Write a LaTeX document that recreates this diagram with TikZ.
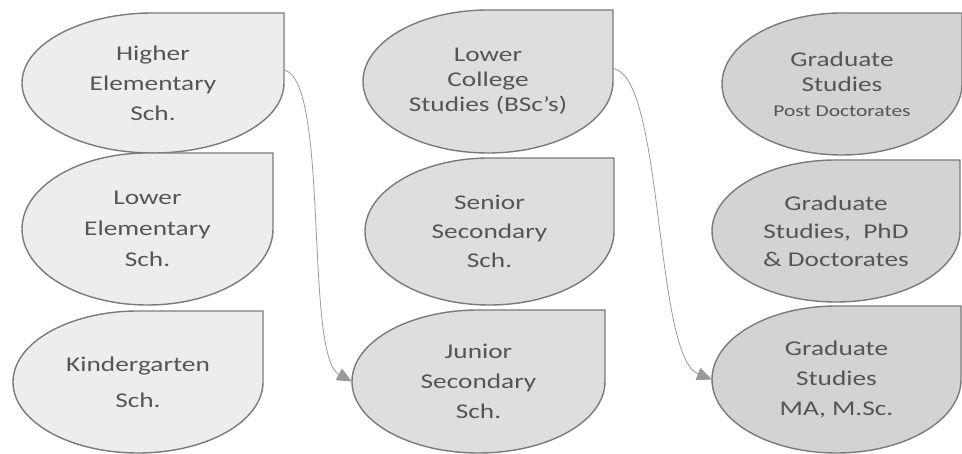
\documentclass[tikz,border=0pt]{standalone}
\usepackage{fontspec}
\newfontfamily\boxfont[FakeStretch=1.3]{Carlito}
\usetikzlibrary{shapes.geometric}
\usetikzlibrary{arrows.meta}
\usetikzlibrary{backgrounds}
\usetikzlibrary{calc}

\definecolor{tearA}{HTML}{EDEDED}
\definecolor{tearB}{HTML}{DEDEDE}
\definecolor{tearC}{HTML}{D3D3D3}
\definecolor{tearborder}{HTML}{7A7A7A}
\definecolor{teartext}{HTML}{555555}
\definecolor{flowgray}{HTML}{9A9A9A}

\tikzset{
  tear/.style={ellipse, inner sep=0pt, outer sep=0pt, align=center,
    text=teartext, font=\boxfont\fontsize{21}{25}\selectfont},
  tearline/.style={draw=tearborder, line width=1.4pt},
  flow/.style={draw=flowgray, line width=0.8pt,
    -{Triangle[length=15pt,width=13pt]}},
}

\begin{document}
\begin{tikzpicture}[x = 1pt, y = 1pt]
    \useasboundingbox (0,0) rectangle (962,454);

    % schools
    \node[tear, minimum width=262pt, minimum height=140pt] (hes) at (153,371)
      {Higher\\[5pt] Elementary\\[5pt] Sch.};
    \node[tear, minimum width=251pt, minimum height=152pt] (les) at (147.5,225)
      {Lower\\[6pt] Elementary\\[6pt] Sch.};
    \node[tear, minimum width=250pt, minimum height=142pt] (kg) at (138,72)
      {Kindergarten\\[11pt] Sch.};

    \node[tear, minimum width=250pt, minimum height=143pt] (lcs) at (488,372.5)
      {Lower\\ College\\ Studies (BSc’s)};
    \node[tear, minimum width=249pt, minimum height=147pt] (sss) at (489.5,222.5)
      {Senior\\[4pt] Secondary\\[4pt] Sch.};
    \node[tear, minimum width=253pt, minimum height=143pt] (jss) at (478.5,72.5)
      {Junior\\[5pt] Secondary\\[5pt] Sch.};

    % graduate studies
    \node[tear, minimum width=240pt, minimum height=142pt] (gpd) at (842,370)
      {Graduate\\ Studies\\ {\fontsize{16.5}{20}\selectfont Post Doctorates}};
    \node[tear, minimum width=248pt, minimum height=142pt] (gphd) at (836,223)
      {Graduate\\[3pt] Studies,~ PhD\\[3pt] \& Doctorates};
    \node[tear, minimum width=249pt, minimum height=147pt] (gma) at (836.5,74.5)
      {Graduate\\[5pt] Studies\\[5pt] MA, M.Sc.};

    \begin{scope}[on background layer]
    \foreach \t/\c in {hes/tearA, les/tearA, kg/tearA,
                       lcs/tearB, sss/tearB, jss/tearB,
                       gpd/tearC, gphd/tearC, gma/tearC}
      \draw[tearline, fill=\c] let \p1 = (\t.east), \p2 = (\t.north) in
        (\p1) -- (\x1,\y2) -- (\p2)
        arc[start angle=90, end angle=360, x radius=\x1-\x2, y radius=\y2-\y1]
        -- cycle;
    \end{scope}

    \draw[flow] ([yshift=13pt]hes.east) .. controls +(46,-10) and +(-48,26) .. (jss.west);
    \draw[flow] ([yshift=13pt]lcs.east) .. controls +(51,-7) and +(-58,23) .. (gma.west);
\end{tikzpicture}
\end{document}
